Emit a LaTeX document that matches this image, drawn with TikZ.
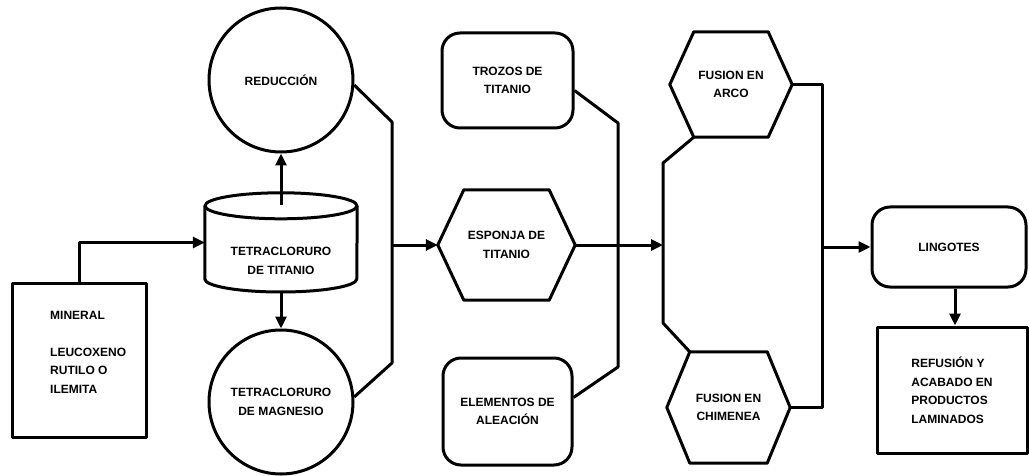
\documentclass[tikz,border=0pt]{standalone}
\usepackage{fontspec}
\setmainfont{Liberation Sans}
\usetikzlibrary{arrows.meta,calc}
\newcommand{\hexa}[2]{\draw[ln] (#1.west) -- ($(#1.north west)+(#2,0)$) -- ($(#1.north east)+(-#2,0)$) -- (#1.east) -- ($(#1.south east)+(-#2,0)$) -- ($(#1.south west)+(#2,0)$) -- cycle;}
\begin{document}
\begin{tikzpicture}[x=1pt,y=-1pt,
  ln/.style={line width=3pt, line join=round},
  arr/.style={ln, -{Triangle[length=12pt,width=11pt]}},
  txt/.style={font=\fontsize{12}{18.5}\selectfont\bfseries, align=center, inner sep=0pt},
  sqbox/.style={txt, draw, ln},
  rbox/.style={txt, draw, ln, rounded corners=18pt},
  cbox/.style={txt, draw, ln, circle},
  hexnode/.style={txt}
]
\useasboundingbox (0,0) rectangle (1029,476);

% mineral
\node[sqbox, minimum width=134pt, minimum height=154pt] (mineral) at (79,360) {};
\node[txt, align=left, anchor=west] (mineraltxt) at (50,352) {MINERAL\\[18.5pt]LEUCOXENO\\RUTILO O\\ILEMITA};

% cylinder
\node[txt, minimum width=152pt, minimum height=99pt] (cyl) at (281,242.5) {};
\node[txt] (cyltxt) at (281,261) {TETRACLORURO\\DE TITANIO};
\draw[ln] ($(cyl.north)+(0,13)$) ellipse [x radius=76, y radius=13];
\draw[ln] ($(cyl.west)+(0,-36.5)$) -- ($(cyl.west)+(0,36.5)$) arc[start angle=180, end angle=0, x radius=76, y radius=13] -- ($(cyl.east)+(0,-36.5)$);

% circles
\node[cbox, minimum size=144pt] (red) at (281,80) {REDUCCIÓN};
\node[cbox, minimum size=144pt] (mag) at (281,402) {TETRACLORURO\\DE MAGNESIO};

% middle column
\node[rbox, minimum width=131pt, minimum height=95pt] (troz) at (507.5,80.5) {TROZOS DE\\TITANIO};
\node[hexnode, minimum width=137pt, minimum height=110pt] (esp) at (506.5,245) {ESPONJA DE\\TITANIO};
\hexa{esp}{26}
\node[rbox, minimum width=129pt, minimum height=107pt] (elem) at (507.5,411.5) {ELEMENTOS DE\\ALEACIÓN};

% fusion
\node[hexnode, minimum width=122pt, minimum height=105pt] (arco) at (731,84.5) {FUSION EN\\ARCO};
\hexa{arco}{24}
\node[hexnode, minimum width=123pt, minimum height=111pt] (chim) at (728.5,407.5) {FUSION EN\\CHIMENEA};
\hexa{chim}{23}

% right
\node[rbox, minimum width=154pt, minimum height=80pt] (ling) at (949,247) {LINGOTES};
\node[sqbox, minimum width=150pt, minimum height=126pt, align=left] (refu) at (952,390) {REFUSIÓN Y\\ACABADO EN\\PRODUCTOS\\LAMINADOS};

% junction coordinates
\coordinate (j1) at (392,122);
\coordinate (j2) at (392,363);
\coordinate (j3) at (392,245);
\coordinate (t1) at (618,123);
\coordinate (t2) at (618,367);
\coordinate (k1) at (663,163);
\coordinate (k2) at (663,323);
\coordinate (k3) at (663,245);
\coordinate (r1) at (822,84.5);
\coordinate (r2) at (822,407.5);
\coordinate (r3) at (822,247);
\coordinate (l1) at ($(ling.south)+(6,0)$);

% connectors
\draw[arr] (mineral.north) |- (cyl.west);
\draw[arr] ($(cyl.north)+(0,12)$) -- (red.south);
\draw[arr] (cyl.south) -- (mag.north);
\draw[ln] (red.-4) -- (j1) -- (j2) -- (mag.4);
\draw[arr] (j3) -- (esp.west);
\draw[ln] ($(troz.east)+(0,10)$) -- (t1) -- (t2) -- ($(elem.east)+(0,-14)$);
\draw[arr] (esp.east) -- (k3);
\draw[ln] ($(arco.south west)+(24,0)$) -- (k1) -- (k2) -- ($(chim.north west)+(23,0)$);
\draw[ln] (arco.east) -- (r1) -- (r2) -- (chim.east);
\draw[arr] (r3) -- (ling.west);
\draw[arr] (l1) -- (l1 |- refu.north);
\end{tikzpicture}
\end{document}
